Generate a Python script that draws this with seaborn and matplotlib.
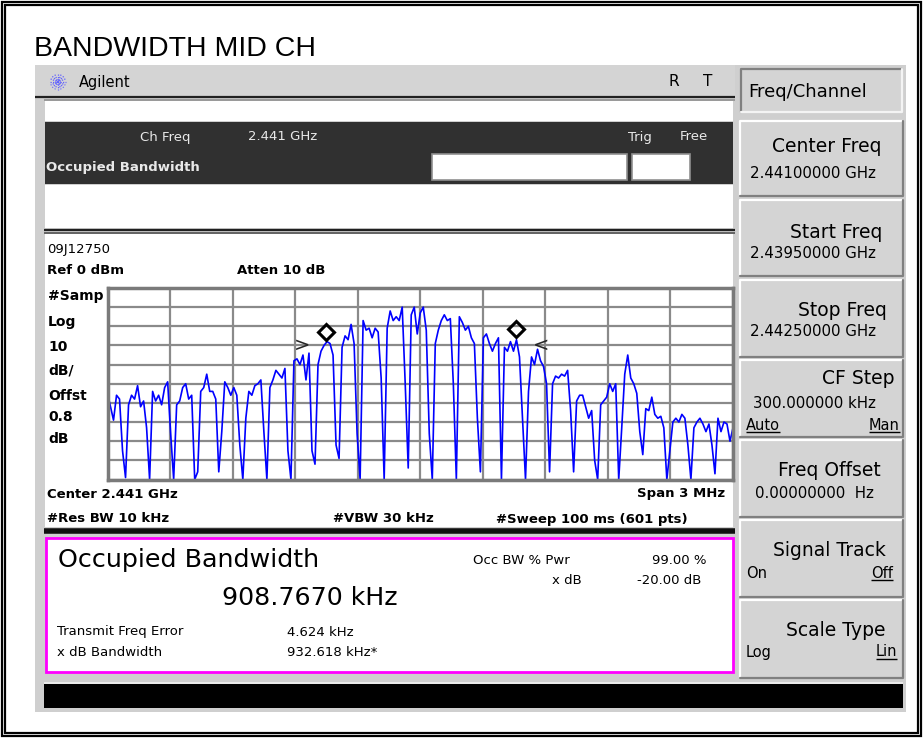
import numpy as np
import pandas as pd
import matplotlib
matplotlib.use("Agg")
import matplotlib.pyplot as plt
from matplotlib.patches import Rectangle
import seaborn as sns

# Sweep setup
start_mhz = 2439.5
stop_mhz = 2442.5
ref_dbm = 0
db_per_div = 10

# Trace levels in dBm, one list per quarter of the span
trace_q1 = [-55, -62, -69, -56, -58, -85, -99, -61, -56, -58,
            -51, -62, -59, -73, -100, -54, -59, -56, -61, -52,
            -49, -76, -100, -61, -59, -52, -50, -58, -56, -100,
            -96, -54, -52, -45, -54, -54, -58, -96, -75, -49,
            -52, -56, -52, -56, -82, -100, -68, -54, -56, -51,
            -50, -48, -75]
trace_q2 = [-100, -52, -48, -43, -45, -47, -42, -85, -100, -38,
            -37, -40, -35, -48, -34, -85, -92, -40, -33, -30,
            -28, -29, -35, -82, -89, -31, -25, -27, -19, -29,
            -76, -100, -17, -22, -21, -26, -21, -23, -47, -100,
            -21, -12, -17, -15, -17, -10, -50, -94, -14, -10,
            -24, -13, -10]
trace_q3 = [-22, -76, -100, -29, -22, -17, -14, -17, -16, -50,
            -100, -15, -18, -22, -20, -26, -29, -68, -96, -26,
            -24, -29, -33, -29, -26, -100, -31, -33, -28, -33,
            -27, -36, -68, -100, -54, -36, -40, -32, -38, -41,
            -50, -96, -50, -46, -47, -45, -46, -43, -64, -96,
            -59, -56]
trace_q4 = [-56, -62, -68, -64, -90, -100, -61, -59, -57, -50,
            -54, -50, -100, -73, -45, -35, -47, -50, -55, -75,
            -87, -63, -64, -57, -66, -68, -67, -73, -100, -85,
            -70, -68, -70, -66, -68, -82, -100, -73, -70, -68,
            -71, -75, -71, -82, -97, -68, -75, -70, -71, -80,
            -73]
level_dbm = trace_q1 + trace_q2 + trace_q3 + trace_q4

# Measurement results
obw_khz = 908.767
freq_err_khz = 4.624
xdb_bw_khz = 932.618
xdb_level_dbm = -30
obw_marker_dbm = [-23, -21.5]

W, H = 923, 738
sns.set_style("white")
plt.rcParams["font.family"] = ["DejaVu Sans"]

fig = plt.figure(figsize=(W / 100, H / 100), dpi=100)
fig.patch.set_facecolor("white")

bg = fig.add_axes([0, 0, 1, 1], zorder=0)
bg.set_xlim(0, W)
bg.set_ylim(H, 0)
bg.axis("off")


def px_rect(x0, y0, x1, y1):
    return [x0 / W, 1 - y1 / H, (x1 - x0) / W, (y1 - y0) / H]


def box(x0, y0, x1, y1, fc, ec="none", lw=0):
    bg.add_patch(Rectangle((x0, y0), x1 - x0, y1 - y0, fc=fc, ec=ec, lw=lw))


def hline(y, x0, x1, color, lw=1.5):
    bg.plot([x0, x1], [y, y], color=color, lw=lw, solid_capstyle="butt")


def txt(x, y, s, size=9.5, ha="left", weight="normal", color="black", family="DejaVu Sans"):
    return bg.text(x, y, s, ha=ha, va="center", fontsize=size, fontweight=weight,
                   color=color, family=family)


def button(x0, y0, x1, y1, sunken=False):
    box(x0, y0, x1, y1, "#d4d4d4")
    light, dark = ("#ffffff", "#808080") if not sunken else ("#808080", "#f4f4f4")
    bg.plot([x0, x0, x1], [y1, y0, y0], color=light, lw=1.6)
    bg.plot([x0, x1, x1], [y1, y1, y0], color=dark, lw=1.6)


underlined = []

# page frame and title
bg.add_patch(Rectangle((1.5, 1.5), W - 3.5, H - 3.5, fc="none", ec="black", lw=1.6))
bg.add_patch(Rectangle((5, 5), W - 10.5, H - 10.5, fc="none", ec="black", lw=1.6))
txt(34, 49, "BANDWIDTH MID CH", size=20.5, family="Liberation Sans")

# instrument screen
box(35, 65, 906, 712, "#cfcfcf")
box(35, 65, 735, 96, "#d4d4d4")
hline(97, 35, 735, "#202020", 1.6)
hline(100, 44, 735, "#909090", 1.2)

# logo
for ang in np.arange(0, 180, 22.5):
    a = np.deg2rad(ang)
    bg.plot([58 - 8 * np.cos(a), 58 + 8 * np.cos(a)],
            [82 - 8 * np.sin(a), 82 + 8 * np.sin(a)],
            color="#6060ff", lw=0.9, ls=(0, (1, 1)))
txt(79, 82, "Agilent", size=10.5)
txt(668, 81, "R", size=11)
txt(703, 81, "T", size=11)

box(45, 101, 733, 121, "white")
box(45, 122, 733, 184, "#303030")
txt(140, 137, "Ch Freq", color="#e8e8e8")
txt(248, 137, "2.441 GHz", color="#e8e8e8")
txt(46, 167, "Occupied Bandwidth", weight="bold", color="#e8e8e8")
txt(628, 137, "Trig", color="#e8e8e8")
txt(680, 137, "Free", color="#e8e8e8")
box(432, 154, 627, 180, "white", "#909090", 1.2)
box(632, 154, 690, 180, "white", "#909090", 1.2)
box(45, 185, 733, 228, "white")
hline(229.5, 44, 735, "#202020", 1.6)
hline(232.5, 44, 735, "#505050", 1.2)
box(45, 234, 733, 527, "white")

# graph annotations
txt(47, 250, "09J12750")
txt(47, 270, "Ref 0 dBm", weight="bold")
txt(237, 270, "Atten 10 dB", weight="bold")
for lab, yy in zip(["#Samp", "Log", "10", "dB/", "Offst", "0.8", "dB"],
                   [296, 322, 347, 370, 396, 417, 439]):
    txt(48, yy, lab, weight="bold", size=10)
txt(47, 494, "Center 2.441 GHz", weight="bold")
txt(725, 494, "Span 3 MHz", weight="bold", ha="right")
txt(47, 519, "#Res BW 10 kHz", weight="bold")
txt(333, 519, "#VBW 30 kHz", weight="bold")
txt(496, 519, "#Sweep 100 ms (601 pts)", weight="bold")
hline(531, 44, 735, "#101010", 4)

# result box
box(46, 538, 733, 672, "white", "#ff00ff", 2)
txt(58, 560, "Occupied Bandwidth", size=18.3)
txt(222, 598, "908.7670 kHz", size=18.2)
txt(473, 560, "Occ BW % Pwr")
txt(707, 560, "99.00 %", ha="right")
txt(582, 581, "x dB", ha="right")
txt(701, 581, "-20.00 dB", ha="right")
txt(57, 632, "Transmit Freq Error")
txt(287, 632, "4.624 kHz")
txt(57, 652, "x dB Bandwidth")
txt(287, 652, "932.618 kHz*")

# status bar
box(44, 684, 903, 708, "black")
hline(683, 44, 903, "#f0f0f0", 1.2)

# softkeys
button(741, 69, 902, 112, sunken=True)
txt(748, 92, "Freq/Channel", size=13)
keys = [
    (121, 196, "Center Freq", 882, 147, "2.44100000 GHz", 750, 173),
    (200, 276, "Start Freq", 882, 232, "2.43950000 GHz", 750, 253),
    (280, 357, "Stop Freq", 887, 310, "2.44250000 GHz", 750, 332),
    (360, 437, "CF Step", 895, 378, "300.000000 kHz", 753, 403),
    (440, 517, "Freq Offset", 881, 470, "0.00000000  Hz", 755, 493),
    (520, 597, "Signal Track", 886, 550, None, 0, 0),
    (600, 678, "Scale Type", 885, 630, None, 0, 0),
]
for y0, y1, lab, lx, ly, val, vx, vy in keys:
    button(740, y0, 903, y1)
    txt(lx, ly, lab, size=13.5, ha="right")
    if val:
        txt(vx, vy, val, size=10.8)
underlined.append(txt(746, 425, "Auto", size=10.5))
underlined.append(txt(900, 425, "Man", size=10.5, ha="right"))
txt(746, 573, "On", size=10.5)
underlined.append(txt(893, 573, "Off", size=10.5, ha="right"))
txt(746, 652, "Log", size=10.5)
underlined.append(txt(897, 652, "Lin", size=10.5, ha="right"))

renderer = fig.canvas.get_renderer()
inv = bg.transData.inverted()
for t in underlined:
    bb = t.get_window_extent(renderer)
    (xa, ya), (xb, yb) = inv.transform([[bb.x0, bb.y0], [bb.x1, bb.y1]])
    hline(max(ya, yb) - 1, xa, xb, "black", 1)

# spectrum trace
freq = np.linspace(start_mhz, stop_mhz, len(level_dbm))
df = pd.DataFrame({"freq": freq, "level": level_dbm})
ax = fig.add_axes(px_rect(107.5, 288, 733, 479.5), zorder=1)
sns.lineplot(data=df, x="freq", y="level", ax=ax, color="#0000ff", lw=1.2)
ax.set_xlim(start_mhz, stop_mhz)
ax.set_ylim(ref_dbm - 10 * db_per_div, ref_dbm)
ax.set_xticks(np.linspace(start_mhz, stop_mhz, 11))
ax.set_yticks(np.linspace(ref_dbm - 10 * db_per_div, ref_dbm, 11))
ax.grid(True, color="#8a8a8a", lw=1.6)
ax.set_axisbelow(True)
ax.tick_params(length=0, labelbottom=False, labelleft=False)
ax.set_xlabel("")
ax.set_ylabel("")
for s in ax.spines.values():
    s.set_color("#7a7a7a")
    s.set_linewidth(2.5)

center = (start_mhz + stop_mhz) / 2 + freq_err_khz / 1000
obw_edges = [center - obw_khz / 2000, center + obw_khz / 2000]
ax.plot(obw_edges, obw_marker_dbm, ls="none", marker="D", ms=8,
        mfc="none", mec="black", mew=2.2, zorder=5)
xdb_edges = [center - xdb_bw_khz / 2000, center + xdb_bw_khz / 2000]
ax.annotate(">", xy=(xdb_edges[0], xdb_level_dbm), xytext=(-14, 0),
            textcoords="offset pixels", ha="right", va="center", fontsize=14)
ax.annotate("<", xy=(xdb_edges[1], xdb_level_dbm), xytext=(14, 0),
            textcoords="offset pixels", ha="left", va="center", fontsize=14)

fig.savefig("out.png", dpi=100)
